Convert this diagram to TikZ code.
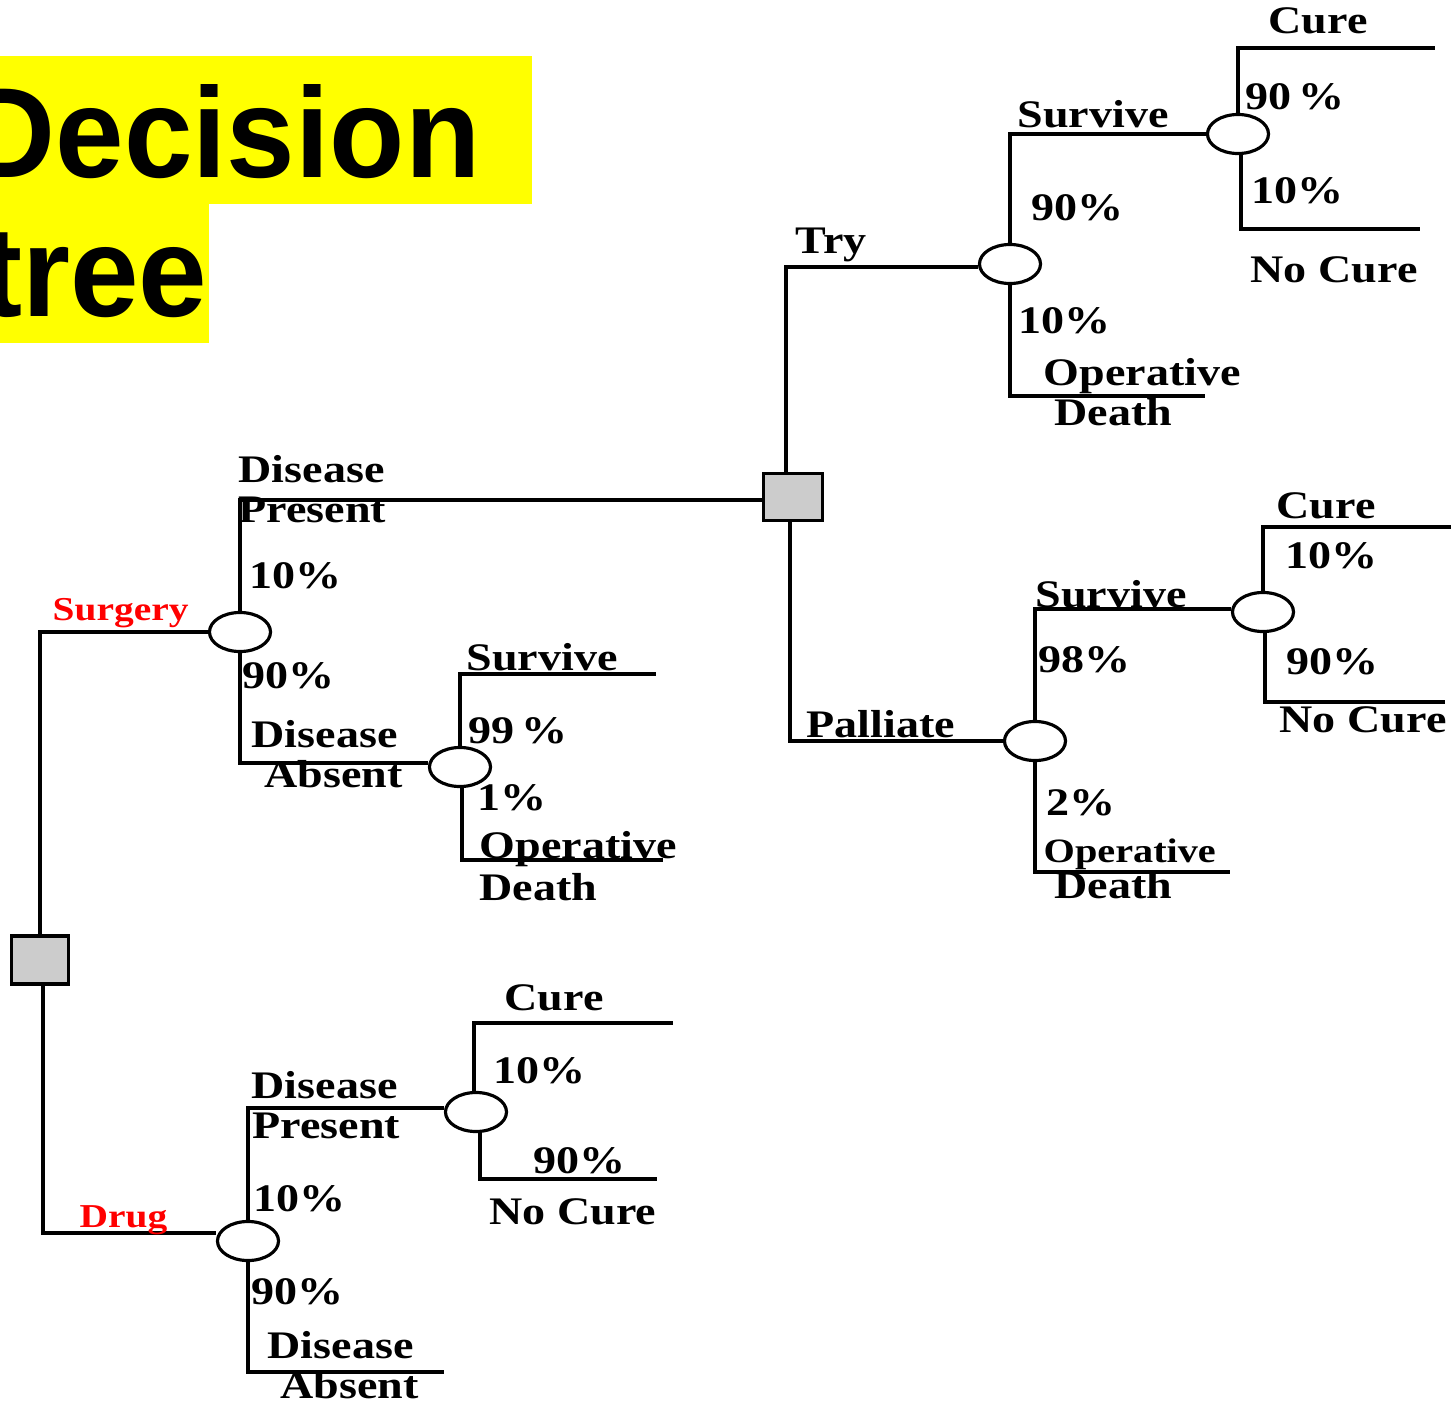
\documentclass[tikz,border=0pt]{standalone}
\usepackage{fontspec}
\usetikzlibrary{shapes.geometric}
\newfontfamily\tfont[FakeStretch=1.18]{Liberation Serif}
\newfontfamily\titlefont[FakeStretch=0.96]{Liberation Sans}
\definecolor{hiyellow}{HTML}{FFFF00}
\definecolor{boxgray}{HTML}{CCCCCC}
\definecolor{lblred}{HTML}{FF0000}
\begin{document}
\begin{tikzpicture}[x=0.01cm,y=-0.01cm,
  branch/.style={line width=0.9pt},
  chance/.style={draw,ellipse,line width=0.9pt,fill=white,minimum width=0.61cm,minimum height=0.39cm,inner sep=0pt},
  decbox/.style={draw,rectangle,line width=0.9pt,fill=boxgray,minimum width=0.57cm,minimum height=0.48cm,inner sep=0pt},
  lbl/.style={anchor=base west,inner sep=0pt,font=\tfont\bfseries\fontsize{11.1}{13}\selectfont},
  smlbl/.style={anchor=base west,inner sep=0pt,font=\tfont\bfseries\fontsize{9.7}{12}\selectfont},
  redlbl/.style={anchor=base west,inner sep=0pt,text=lblred,font=\tfont\bfseries\fontsize{9.5}{12}\selectfont},
  ttl/.style={anchor=base east,inner sep=0pt,font=\titlefont\bfseries\fontsize{36.5}{40}\selectfont}]
\useasboundingbox (0,0) rectangle (1451,1403);
% title
\fill[hiyellow] (0,56) rectangle (532,204);
\fill[hiyellow] (0,204) rectangle (209,343);
\node[ttl] (t1) at (481,177) {Decision};
\node[ttl] (t2) at (208,316) {tree};
% nodes
\node[decbox] (D1) at (40,960) {};
\node[decbox,minimum width=0.59cm,minimum height=0.47cm] (D2) at (793,497) {};
\node[chance] (surg) at (240,632) {};
\node[chance] (drug) at (248,1241) {};
\node[chance] (try) at (1010,264) {};
\node[chance] (sa) at (1238,134) {};
\node[chance] (abs) at (460,767) {};
\node[chance] (pal) at (1035,741) {};
\node[chance] (sb) at (1263,612) {};
\node[chance] (dp) at (476,1112) {};
% free ends
\coordinate (tOD) at (1205,396);
\coordinate (saC) at (1435,48);
\coordinate (saN) at (1420,229);
\coordinate (pOD) at (1230,872);
\coordinate (sbC) at (1451,527);
\coordinate (sbN) at (1445,702);
\coordinate (aS) at (656,674);
\coordinate (aOD) at (663,860);
\coordinate (dDA) at (444,1372);
\coordinate (dC) at (673,1023);
\coordinate (dN) at (657,1179);
% connectors
\draw[branch] (D1.north) |- (surg.west);
\draw[branch] ([xshift=0.03cm]D1.south) |- ([yshift=0.08cm]drug.west);
\draw[branch] (surg.north) |- ([yshift=-0.03cm]D2.west);
\draw[branch] (surg.south) |- ([yshift=0.04cm]abs.west);
\draw[branch] ([xshift=-0.07cm]D2.north) |- ([yshift=-0.03cm]try.west);
\draw[branch] ([xshift=-0.03cm]D2.south) |- (pal.west);
\draw[branch] (try.north) |- (sa.west);
\draw[branch] (try.south) |- (tOD);
\draw[branch] (sa.north) |- (saC);
\draw[branch] ([xshift=0.03cm]sa.south) |- (saN);
\draw[branch] (pal.north) |- ([yshift=0.03cm]sb.west);
\draw[branch] (pal.south) |- (pOD);
\draw[branch] (sb.north) |- (sbC);
\draw[branch] ([xshift=0.02cm]sb.south) |- (sbN);
\draw[branch] (abs.north) |- (aS);
\draw[branch] ([xshift=0.02cm]abs.south) |- (aOD);
\draw[branch] (drug.north) |- ([yshift=0.04cm]dp.west);
\draw[branch] (drug.south) |- (dDA);
\draw[branch] ([xshift=-0.02cm]dp.north) |- (dC);
\draw[branch] ([xshift=0.04cm]dp.south) |- (dN);
% labels: surgery branch
\node[redlbl] (lsurg) at (52,620) {Surgery};
\node[lbl] (l1) at (238,482) {Disease};
\node[lbl] (l2) at (238,522) {Present};
\node[lbl] (l3) at (249,588) {10\%};
\node[lbl] (l4) at (242,688) {90\%};
\node[lbl] (l5) at (251,747) {Disease};
\node[lbl] (l6) at (264,787) {Absent};
\node[lbl] (l7) at (466,670) {Survive};
\node[lbl] (l8) at (468,743) {99\,\%};
\node[lbl] (l9) at (477,810) {1\%};
\node[lbl] (l10) at (479,858) {Operative};
\node[lbl] (l11) at (479,900) {Death};
% try branch
\node[lbl] (l12) at (795,253) {Try};
\node[lbl] (l13) at (1017,127) {Survive};
\node[lbl] (l14) at (1031,220) {90\%};
\node[lbl] (l15) at (1018,333) {10\%};
\node[lbl] (l16) at (1043,385) {Operative};
\node[lbl] (l17) at (1054,425) {Death};
\node[lbl] (l18) at (1268,33) {Cure};
\node[lbl] (l19) at (1245,110) {90\,\%};
\node[lbl] (l20) at (1251,203) {10\%};
\node[lbl] (l21) at (1250,282) {No Cure};
% palliate branch
\node[lbl] (l22) at (806,737) {Palliate};
\node[lbl] (l23) at (1035,607) {Survive};
\node[lbl] (l24) at (1038,672) {98\%};
\node[lbl] (l25) at (1046,815) {2\%};
\node[smlbl] (l26) at (1043,862) {Operative};
\node[lbl] (l27) at (1054,898) {Death};
\node[lbl] (l28) at (1276,518) {Cure};
\node[lbl] (l29) at (1285,568) {10\%};
\node[lbl] (l30) at (1286,674) {90\%};
\node[lbl] (l31) at (1279,732) {No Cure};
% drug branch
\node[redlbl] (ldrug) at (79,1227) {Drug};
\node[lbl] (l32) at (251,1098) {Disease};
\node[lbl] (l33) at (252,1138) {Present};
\node[lbl] (l34) at (253,1211) {10\%};
\node[lbl] (l35) at (251,1304) {90\%};
\node[lbl] (l36) at (267,1358) {Disease};
\node[lbl] (l37) at (280,1398) {Absent};
\node[lbl] (l38) at (504,1010) {Cure};
\node[lbl] (l39) at (493,1083) {10\%};
\node[lbl] (l40) at (533,1173) {90\%};
\node[lbl] (l41) at (489,1224) {No Cure};
\end{tikzpicture}
\end{document}
